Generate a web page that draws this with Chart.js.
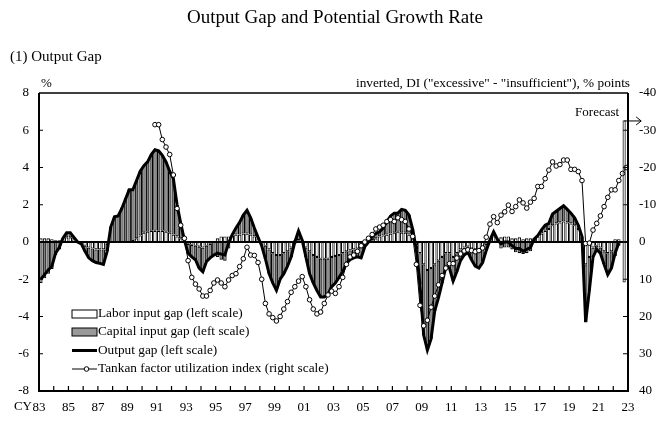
<!DOCTYPE html>
<html><head><meta charset="utf-8">
<script src="https://cdn.jsdelivr.net/npm/chart.js@4.4.0/dist/chart.umd.min.js"></script>
<style>html,body{margin:0;padding:0;background:#fff;}#wrap{position:relative;width:670px;height:423px;}</style>
</head><body><div id="wrap"><canvas id="c" width="670" height="423"></canvas></div>
<script>
const firstYear = 1983;          // CY83, first quarter of the gap series
const tankanStartQuarter = 31;   // 1990Q4 (quarters counted from 1983Q1)
const laborGap = [
 0.2,0.2,0.2,0.15, 0.1,0.1,0.15,0.25, 0.25,0.15,0.0,-0.05, -0.2,-0.3,-0.35,-0.4,
 -0.4,-0.4,-0.1,0.0, 0.0,0.0,-0.05,-0.05, -0.05,0.05,0.2,0.35, 0.5,0.55,0.6,0.6,
 0.6,0.6,0.55,0.5, 0.4,0.3,0.2,0.1, -0.1,-0.15,-0.2,-0.25, -0.3,-0.2,-0.1,0.0,
 0.2,0.3,0.3,0.3, 0.35,0.4,0.4,0.45, 0.45,0.4,0.3,0.2, 0.0,-0.2,-0.4,-0.6,
 -0.7,-0.7,-0.6,-0.5, -0.3,-0.1,0.1,0.0, -0.3,-0.5,-0.7,-0.8, -0.9,-0.9,-0.9,-0.8,
 -0.75,-0.7,-0.6,-0.5, -0.45,-0.4,-0.35,-0.25, -0.1,0.0,0.1,0.2, 0.3,0.35,0.4,0.45,
 0.5,0.55,0.5,0.5, 0.4,0.2,-0.2,-0.6, -1.2,-1.5,-1.4,-1.2, -1.0,-0.8,-0.6,-0.6,
 -0.8,-0.6,-0.4,-0.3, -0.25,-0.35,-0.4,-0.4, -0.3,-0.1,0.1,0.3, 0.15,0.25,0.3,0.3,
 0.2,0.2,0.25,0.15, 0.2,0.2,0.2,0.3, 0.45,0.6,0.7,0.9, 1.0,1.05,1.1,1.05,
 1.0,0.9,0.7,0.3, -1.2,-0.8,-0.3,-0.2, -0.3,-0.5,-0.6,-0.5, 0.15,0.15
];
const capitalGap = [
 -2.2,-1.95,-1.7,-1.45, -0.7,-0.4,0.05,0.25, 0.25,0.1,0.0,-0.05, -0.3,-0.55,-0.65,-0.7,
 -0.75,-0.8,-0.4,0.8, 1.35,1.4,1.85,2.35, 2.85,2.75,3.1,3.45, 3.6,3.75,4.1,4.35,
 4.3,4.05,3.75,3.3, 3.0,1.7,0.8,0.0, -0.5,-0.65,-0.75,-1.15, -1.3,-0.85,-0.75,-0.7,
 -0.8,-0.95,-1.0,-0.35, 0.05,0.35,0.65,1.0, 1.25,0.9,0.45,0.05, -0.2,-0.7,-1.3,-1.6,
 -1.9,-1.3,-1.1,-0.8, -0.5,0.1,0.5,0.1, -0.5,-1.2,-1.5,-1.8, -2.05,-2.05,-1.9,-1.6,
 -1.45,-1.2,-1.0,-0.65, -0.5,-0.45,-0.45,-0.6, -0.15,0.0,0.2,0.25, 0.25,0.4,0.7,0.95,
 1.05,1.0,1.25,1.2, 1.05,0.5,-0.2,-1.7, -3.8,-4.3,-3.8,-2.5, -2.0,-1.4,-0.75,-0.8,
 -1.3,-1.0,-0.6,-0.4, -0.3,-0.6,-0.9,-1.0, -0.8,-0.35,0.0,0.25, 0.0,-0.35,-0.3,-0.3,
 -0.4,-0.55,-0.6,-0.65, -0.6,-0.5,-0.05,0.05, 0.2,0.3,0.3,0.6, 0.65,0.75,0.85,0.7,
 0.55,0.4,0.2,0.0, -3.1,-1.8,-0.5,-0.2, -0.3,-0.7,-1.15,-0.9, -0.75,-0.2
];
const outputGap = [
 -2.0,-1.75,-1.5,-1.3, -0.6,-0.3,0.2,0.5, 0.5,0.25,0.0,-0.1, -0.5,-0.85,-1.0,-1.1,
 -1.15,-1.2,-0.5,0.8, 1.35,1.4,1.8,2.3, 2.8,2.8,3.3,3.8, 4.1,4.3,4.7,4.95,
 4.9,4.65,4.3,3.8, 3.4,2.0,1.0,0.1, -0.6,-0.8,-0.95,-1.4, -1.6,-1.05,-0.85,-0.7,
 -0.6,-0.65,-0.7,-0.05, 0.4,0.75,1.05,1.45, 1.7,1.3,0.75,0.25, -0.2,-0.9,-1.7,-2.2,
 -2.6,-2.0,-1.7,-1.3, -0.8,0.0,0.6,0.1, -0.8,-1.7,-2.2,-2.6, -2.95,-2.95,-2.8,-2.4,
 -2.2,-1.9,-1.6,-1.15, -0.95,-0.85,-0.8,-0.85, -0.25,0.0,0.3,0.45, 0.55,0.75,1.1,1.4,
 1.55,1.55,1.75,1.7, 1.45,0.7,-0.4,-2.3, -5.0,-5.8,-5.2,-3.7, -3.0,-2.2,-1.35,-1.4,
 -2.1,-1.6,-1.0,-0.7, -0.55,-0.95,-1.3,-1.4, -1.1,-0.45,0.1,0.55, 0.15,-0.1,0.0,0.0,
 -0.2,-0.35,-0.35,-0.5, -0.4,-0.3,0.15,0.35, 0.65,0.9,1.0,1.5, 1.65,1.8,1.95,1.75,
 1.55,1.3,0.9,0.3, -4.3,-2.6,-0.8,-0.4, -0.6,-1.2,-1.75,-1.4, -0.6,-0.05
];
const tankan = [
 -31.5,
 -31.5,-27.5,-25.5,-23.5, -18,-9,-4.5,-1, 5,9.5,11.3,12.6, 14.5,14.5,13,11,
 10.2,11,12,10.2, 9,8.5,6.6,4.5, 1.4,3.5,3.6,5.5, 10,16.5,19.3,20.3,
 21.2,20,18,16, 13.5,12,10.5,9.3, 12,15.5,18,19.3, 18.8,16.5,14.2,13.2,
 13.8,12,9.5,6, 4,3.5,2.5,1, 0,-1,-2,-3.5, -4,-4.5,-5.5,-6,
 -5.5,-6.5,-6,-5.5, -3.5,-1.5,6,17, 22.5,21,17.5,14.5, 11.5,9,7,5.8,
 5.8,4.3,3.2,2.4, 2.1,2.3,2.6,2.3, 1.6,-1.3,-4.8,-6.8, -5.2,-7.2,-8.1,-9.9,
 -8.2,-9.5,-11.3,-10.5, -9.1,-10.7,-11.7,-14.9, -14.9,-17,-19.3,-21.5, -20.4,-20.8,-22,-22,
 -19.5,-19.5,-18.9,-16.5, 0.4,0.3,-3.2,-5, -7,-9.5,-12,-14, -14,-16.5,-18.4,-20
];
const leftTicks = {min: -8, max: 8, step: 2};
const rightTicks = {min: -40, max: 40, step: 10};
const xRange = {min: 1983, max: 2023};

const SERIF = '"Liberation Serif", "Times New Roman", serif';
const qx = q => firstYear + (q + 0.5) / 4;
const pts = (arr, start) => arr.map((v, i) => ({x: qx(start + i), y: v}));

const decor = {
  id: 'decor',
  beforeDatasetsDraw(chart) {
    const {ctx, chartArea: a, scales: {y}} = chart;
    ctx.save();
    ctx.strokeStyle = '#000'; ctx.lineWidth = 2;
    const y0 = y.getPixelForValue(0);
    ctx.beginPath(); ctx.moveTo(a.left, y0); ctx.lineTo(a.right, y0); ctx.stroke();
    ctx.restore();
  },
  afterDatasetsDraw(chart) {
    const {ctx, chartArea: a, scales: {x, y, y2}} = chart;
    ctx.save();
    ctx.strokeStyle = '#000';
    ctx.lineWidth = 1.3;
    ctx.beginPath(); ctx.moveTo(a.left, a.top); ctx.lineTo(a.right, a.top); ctx.stroke();
    ctx.lineWidth = 2;
    ctx.beginPath();
    ctx.moveTo(a.left, a.top); ctx.lineTo(a.left, a.bottom); ctx.lineTo(a.right, a.bottom); ctx.lineTo(a.right, a.top);
    ctx.stroke();
    ctx.lineWidth = 1.2;
    ctx.beginPath();
    for (let yr = xRange.min + 1; yr < xRange.max; yr++) {
      const px = x.getPixelForValue(yr);
      ctx.moveTo(px, a.bottom); ctx.lineTo(px, a.bottom - 5);
    }
    for (let v = leftTicks.min + leftTicks.step; v < leftTicks.max; v += leftTicks.step) {
      const py = y.getPixelForValue(v);
      ctx.moveTo(a.left, py); ctx.lineTo(a.left + 4, py);
    }
    for (let v = rightTicks.min + rightTicks.step; v < rightTicks.max; v += rightTicks.step) {
      const py = y2.getPixelForValue(v);
      ctx.moveTo(a.right, py); ctx.lineTo(a.right - 5, py);
    }
    ctx.stroke();
    const fx = x.getPixelForValue(qx(tankanStartQuarter + tankan.length - 1)) - 2;
    const fTop = y2.getPixelForValue(-32.5), fBot = y2.getPixelForValue(10.7);
    ctx.lineWidth = 0.8; ctx.strokeStyle = '#222';
    ctx.strokeRect(fx - 1, fTop, 2, fBot - fTop);
    ctx.lineWidth = 1; ctx.strokeStyle = '#000';
    ctx.beginPath(); ctx.moveTo(fx, fTop); ctx.lineTo(fx + 17, fTop);
    ctx.moveTo(fx + 12, fTop - 4); ctx.lineTo(fx + 17, fTop); ctx.lineTo(fx + 12, fTop + 4);
    ctx.stroke();
    ctx.fillStyle = '#000';
    ctx.font = '13px ' + SERIF;
    ctx.textAlign = 'right'; ctx.textBaseline = 'middle';
    ctx.fillText('Forecast', fx - 5, fTop - 8);
    const lx = 72, lw = 25, tx = 98;
    const rows = [314, 332, 350.5, 369];
    ctx.textAlign = 'left';
    ctx.lineWidth = 1;
    ctx.fillStyle = '#fff'; ctx.fillRect(lx, rows[0] - 4, lw, 8); ctx.strokeRect(lx, rows[0] - 4, lw, 8);
    ctx.fillStyle = '#999'; ctx.fillRect(lx, rows[1] - 4, lw, 8); ctx.strokeRect(lx, rows[1] - 4, lw, 8);
    ctx.lineWidth = 3; ctx.beginPath(); ctx.moveTo(lx, rows[2]); ctx.lineTo(lx + lw, rows[2]); ctx.stroke();
    ctx.lineWidth = 1; ctx.beginPath(); ctx.moveTo(lx, rows[3]); ctx.lineTo(lx + lw, rows[3]); ctx.stroke();
    ctx.fillStyle = '#fff'; ctx.beginPath(); ctx.arc(lx + lw / 2 + 2, rows[3], 2.3, 0, Math.PI * 2); ctx.fill(); ctx.stroke();
    ctx.fillStyle = '#000';
    ctx.font = '13.3px ' + SERIF;
    const names = chart.data.datasets.map(d => d.label);
    for (let i = 0; i < 4; i++) ctx.fillText(names[i], tx, rows[i]);
    ctx.restore();
  },
  afterDraw(chart) {
    const {ctx, chartArea: a, scales: {x}} = chart;
    ctx.save();
    ctx.fillStyle = '#000'; ctx.textBaseline = 'middle';
    ctx.font = '19px ' + SERIF; ctx.textAlign = 'center';
    ctx.fillText('Output Gap and Potential Growth Rate', 335, 18);
    ctx.font = '15px ' + SERIF; ctx.textAlign = 'left';
    ctx.fillText('(1) Output Gap', 10, 57);
    ctx.font = '13px ' + SERIF;
    ctx.fillText('%', a.left + 2, 84);
    ctx.textAlign = 'right';
    ctx.font = '13.3px ' + SERIF;
    ctx.fillText('inverted, DI ("excessive" - "insufficient"), % points', 630, 84);
    ctx.font = '13px ' + SERIF;
    ctx.fillText('CY', x.getPixelForValue(xRange.min) - 7, 407);
    ctx.restore();
  }
};

new Chart(document.getElementById('c'), {
  type: 'bar',
  data: {
    datasets: [
      {label: 'Labor input gap (left scale)', data: pts(laborGap, 0), stack: 'gap', yAxisID: 'y',
       backgroundColor: '#fff', borderColor: '#000', borderWidth: 1.1, borderSkipped: false,
       categoryPercentage: 0.95, barPercentage: 1, order: 3},
      {label: 'Capital input gap (left scale)', data: pts(capitalGap, 0), stack: 'gap', yAxisID: 'y',
       backgroundColor: '#808080', borderColor: '#000', borderWidth: 1.1, borderSkipped: false,
       categoryPercentage: 0.95, barPercentage: 1, order: 3},
      {type: 'line', label: 'Output gap (left scale)', data: pts(outputGap, 0), yAxisID: 'y',
       borderColor: '#000', borderWidth: 3, pointRadius: 0, tension: 0, order: 2},
      {type: 'line', label: 'Tankan factor utilization index (right scale)', data: pts(tankan, tankanStartQuarter), yAxisID: 'y2',
       borderColor: '#000', borderWidth: 1, pointRadius: 2.3, pointBackgroundColor: '#fff',
       pointBorderColor: '#000', pointBorderWidth: 1, tension: 0, order: 1}
    ]
  },
  options: {
    responsive: false, animation: false, devicePixelRatio: 1,
    layout: {padding: {top: 93, left: 0, right: 0, bottom: 0}},
    plugins: {legend: {display: false}, tooltip: {enabled: false}},
    scales: {
      x: {type: 'linear', min: xRange.min, max: xRange.max, offset: false,
          grid: {display: false, drawTicks: false}, border: {display: false},
          afterFit: s => { s.height = 32; },
          ticks: {stepSize: 1, autoSkip: false, maxRotation: 0, padding: 9, color: '#000',
                  font: {family: SERIF, size: 13},
                  callback: v => (Math.round(v) % 2 === 1) ? String(Math.round(v)).slice(2) : ''}},
      y: {position: 'left', min: leftTicks.min, max: leftTicks.max,
          grid: {display: false, drawTicks: false}, border: {display: false},
          afterFit: s => { s.width = 39; },
          ticks: {stepSize: leftTicks.step, padding: 10, color: '#000', font: {family: SERIF, size: 13}}},
      y2: {position: 'right', min: rightTicks.min, max: rightTicks.max, reverse: true,
           grid: {display: false, drawTicks: false}, border: {display: false},
           afterFit: s => { s.width = 42; },
           ticks: {stepSize: rightTicks.step, padding: 11, color: '#000', font: {family: SERIF, size: 13}}}
    }
  },
  plugins: [decor]
});
</script></body></html>
